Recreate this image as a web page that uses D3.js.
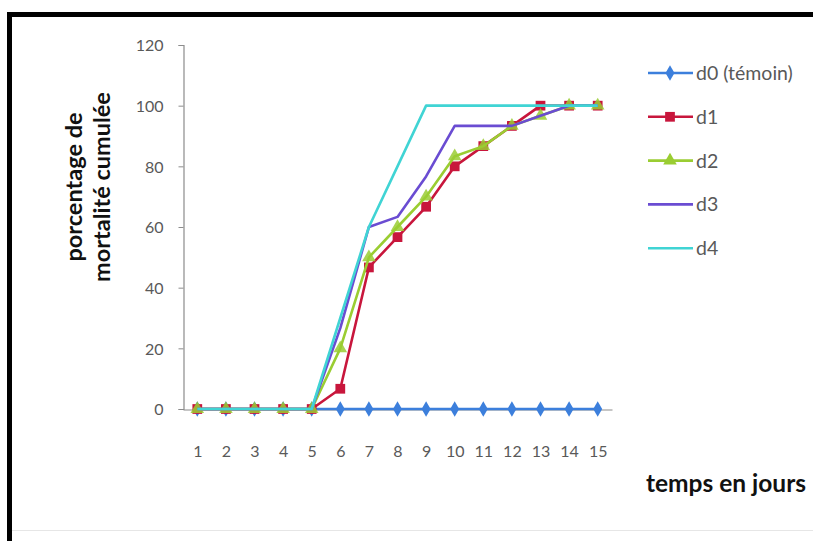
<!DOCTYPE html>
<html>
<head>
<meta charset="utf-8">
<script src="https://cdn.jsdelivr.net/npm/d3@7/dist/d3.min.js"></script>
<style>
  html, body { margin: 0; padding: 0; background: #ffffff; }
  svg { display: block; }
  text { font-family: Lato, "Open Sans", "Liberation Sans", sans-serif; }
</style>
</head>
<body>
<svg id="chart" width="813" height="541"></svg>
<script>
// Cumulative mortality (%) per day for each dose
const days = [1, 2, 3, 4, 5, 6, 7, 8, 9, 10, 11, 12, 13, 14, 15];
const doseD0 = [0, 0, 0, 0, 0, 0, 0, 0, 0, 0, 0, 0, 0, 0, 0];
const doseD1 = [0, 0, 0, 0, 0, 6.67, 46.67, 56.67, 66.67, 80, 86.67, 93.33, 100, 100, 100];
const doseD2 = [0, 0, 0, 0, 0, 20, 50, 60, 70, 83.33, 86.67, 93.33, 96.67, 100, 100];
const doseD3 = [0, 0, 0, 0, 0, 26.67, 60, 63.33, 76.67, 93.33, 93.33, 93.33, 96.67, 100, 100];
const doseD4 = [0, 0, 0, 0, 0, 30, 60, 80, 100, 100, 100, 100, 100, 100, 100];
const seriesNames = ["d0 (témoin)", "d1", "d2", "d3", "d4"];
const yTicks = [0, 20, 40, 60, 80, 100, 120];

const seriesStyles = [
  { color: "#3c7fdc", marker: "diamond" },
  { color: "#c8163c", marker: "square" },
  { color: "#9acd32", marker: "triangle" },
  { color: "#6a4cd2", marker: null },
  { color: "#40d4d4", marker: null }
];
const series = [doseD0, doseD1, doseD2, doseD3, doseD4].map((values, i) => ({
  name: seriesNames[i],
  values,
  ...seriesStyles[i]
}));

const svg = d3.select("#chart");

// Frame edges
svg.append("rect").attr("x", 7).attr("y", 12).attr("width", 806).attr("height", 5).attr("fill", "#000");
svg.append("rect").attr("x", 7).attr("y", 12).attr("width", 5).attr("height", 529).attr("fill", "#000");
svg.append("line").attr("x1", 12).attr("x2", 813).attr("y1", 530.5).attr("y2", 530.5)
  .attr("stroke", "#e6e6e6").attr("stroke-width", 1);

// Scales
const x = d3.scalePoint().domain(days).range([183, 612]).padding(0.5);
const y = d3.scaleLinear().domain([0, 120]).range([409, 45]);

const axisColor = "#8c8c8c";
const labelColor = "#595959";

// Y axis
const yAxis = svg.append("g")
  .attr("transform", "translate(183.5,0)")
  .call(d3.axisLeft(y).tickValues(yTicks).tickSize(5).tickPadding(15));
yAxis.select(".domain").attr("stroke", axisColor).attr("stroke-width", 1.2);
yAxis.selectAll(".tick line").attr("stroke", axisColor);
yAxis.selectAll(".tick text").attr("fill", labelColor).attr("font-size", 16).attr("dy", "0.36em");

// X axis
const xAxis = svg.append("g")
  .attr("transform", "translate(0,409.5)")
  .call(d3.axisBottom(x).tickSize(0).tickPadding(47));
xAxis.select(".domain").attr("stroke", axisColor).attr("stroke-width", 1.2);
xAxis.selectAll(".tick text").attr("fill", labelColor).attr("font-size", 16).attr("dy", "0");

// Axis titles
const yTitle = svg.append("text")
  .attr("transform", "translate(0,187) rotate(-90)")
  .attr("text-anchor", "middle")
  .attr("font-weight", "bold")
  .attr("font-size", 23.5)
  .attr("fill", "#111");
yTitle.append("tspan").attr("x", 0).attr("y", 82).text("porcentage de");
yTitle.append("tspan").attr("x", 0).attr("y", 110).text("mortalité cumulée");

svg.append("text")
  .attr("x", 726).attr("y", 492)
  .attr("text-anchor", "middle")
  .attr("font-weight", "bold")
  .attr("font-size", 24.5)
  .attr("fill", "#111")
  .text("temps en jours");

// Marker symbols
const symbolFor = {
  diamond: d3.symbol().type(d3.symbolDiamond).size(70),
  square: d3.symbol().type(d3.symbolSquare).size(95),
  triangle: d3.symbol().type(d3.symbolTriangle).size(80)
};

const line = d3.line().x((d, i) => x(days[i])).y(d => y(d));

const plot = svg.append("g");
series.forEach(s => {
  const g = plot.append("g");
  g.append("path")
    .datum(s.values)
    .attr("d", line)
    .attr("fill", "none")
    .attr("stroke", s.color)
    .attr("stroke-width", 2.6)
    .attr("stroke-linejoin", "round");
  if (s.marker) {
    g.selectAll("path.mk")
      .data(s.values)
      .join("path")
      .attr("class", "mk")
      .attr("transform", (d, i) => `translate(${x(days[i])},${y(d)})`)
      .attr("d", symbolFor[s.marker]())
      .attr("fill", s.color)
      .attr("fill-opacity", s.marker === "triangle" ? 0.85 : 1);
  }
});

// Legend
const legendTop = 73;
const legendStep = 43.8;
const legend = svg.append("g");
series.forEach((s, i) => {
  const ly = legendTop + i * legendStep;
  legend.append("line")
    .attr("x1", 648).attr("x2", 693).attr("y1", ly).attr("y2", ly)
    .attr("stroke", s.color).attr("stroke-width", 2.6);
  if (s.marker) {
    legend.append("path")
      .attr("transform", `translate(670,${ly})`)
      .attr("d", symbolFor[s.marker]())
      .attr("fill", s.color);
  }
  legend.append("text")
    .attr("x", 696).attr("y", ly + 7)
    .attr("font-size", 19.5)
    .attr("fill", "#595959")
    .text(s.name);
});
</script>
</body>
</html>
